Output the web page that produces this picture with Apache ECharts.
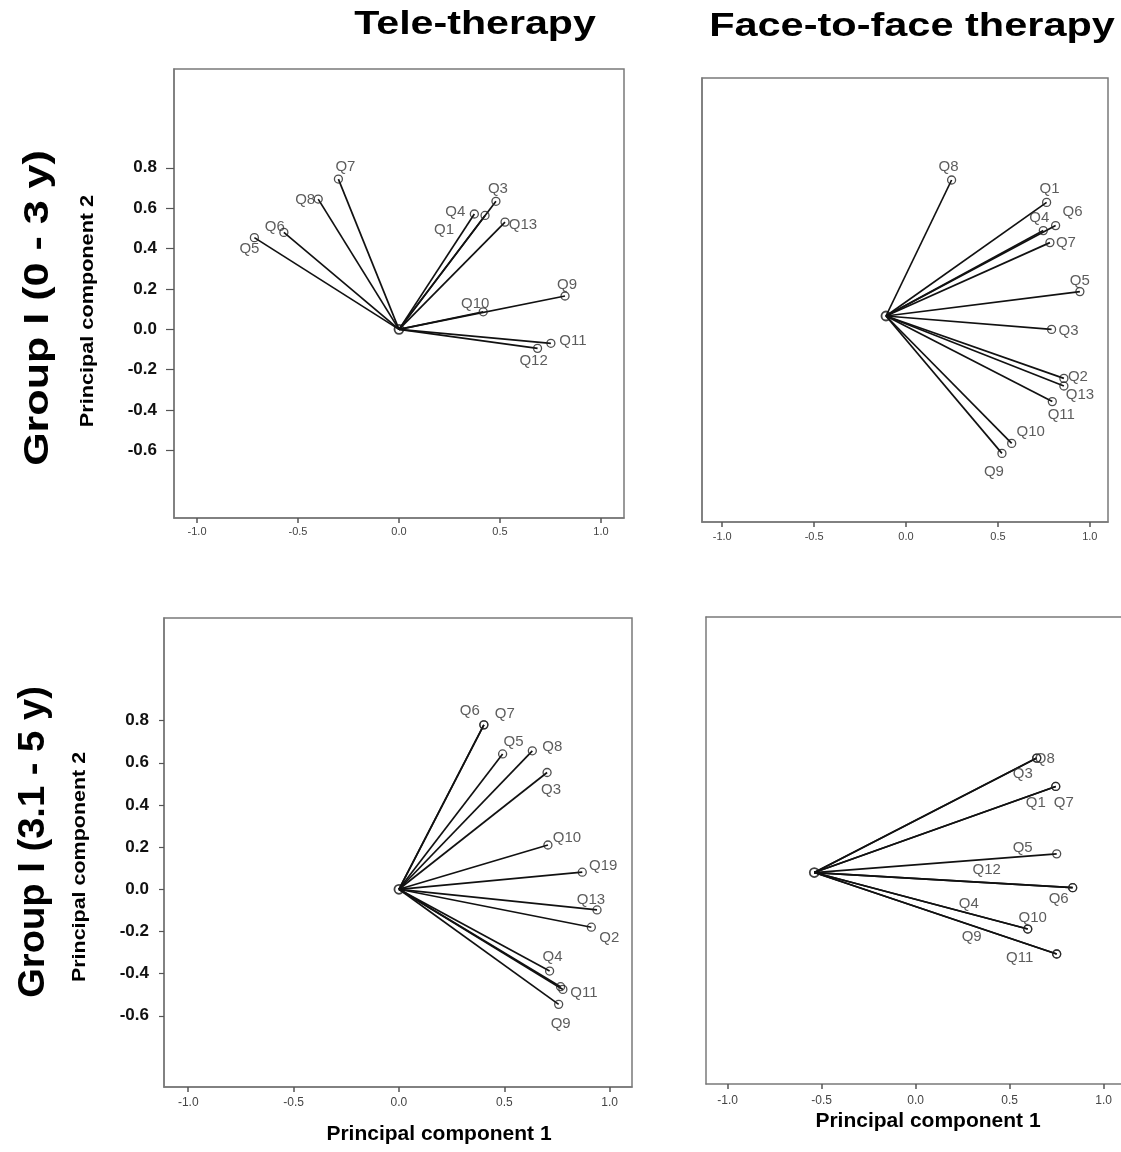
<!DOCTYPE html>
<html>
<head>
<meta charset="utf-8">
<title>PCA loading plots</title>
<script src="https://cdn.jsdelivr.net/npm/echarts@6/dist/echarts.min.js"></script>
<style>
  html, body { margin: 0; padding: 0; background: #fff; }
  #chart { width: 1121px; height: 1152px; }
</style>
</head>
<body>
<div id="chart"></div>
<script>
// tick labels
const xTicks = [-1.0, -0.5, 0.0, 0.5, 1.0];
const yTicks = [-0.6, -0.4, -0.2, 0.0, 0.2, 0.4, 0.6, 0.8];

// Group I (0 - 3 y), tele-therapy
const teleYoungItems = ['Q7', 'Q8', 'Q6', 'Q5', 'Q4', 'Q1', 'Q3', 'Q13', 'Q9', 'Q10', 'Q11', 'Q12'];
const teleYoungPC1 = [-0.30, -0.40, -0.57, -0.716, 0.373, 0.426, 0.48, 0.525, 0.822, 0.417, 0.752, 0.686];
const teleYoungPC2 = [0.744, 0.645, 0.48, 0.454, 0.571, 0.564, 0.634, 0.531, 0.165, 0.087, -0.069, -0.094];
const teleYoungOrigin = [0, 0];

// Group I (0 - 3 y), face-to-face therapy
const faceYoungItems = ['Q8', 'Q1', 'Q6', 'Q4', 'Q7', 'Q5', 'Q3', 'Q2', 'Q13', 'Q11', 'Q10', 'Q9'];
const faceYoungPC1 = [0.248, 0.765, 0.814, 0.747, 0.783, 0.946, 0.792, 0.859, 0.859, 0.796, 0.575, 0.522];
const faceYoungPC2 = [0.68, 0.568, 0.452, 0.427, 0.367, 0.122, -0.067, -0.312, -0.35, -0.428, -0.637, -0.687];
const faceYoungOrigin = [-0.109, 0];

// Group I (3.1 - 5 y), tele-therapy ('' = unlabeled point next to Q11)
const teleOlderItems = ['Q6', 'Q7', 'Q5', 'Q8', 'Q3', 'Q10', 'Q19', 'Q13', 'Q2', 'Q4', '', 'Q11', 'Q9'];
const teleOlderPC1 = [0.403, 0.403, 0.492, 0.633, 0.703, 0.707, 0.87, 0.94, 0.913, 0.715, 0.767, 0.778, 0.758];
const teleOlderPC2 = [0.78, 0.78, 0.642, 0.657, 0.554, 0.21, 0.081, -0.098, -0.18, -0.388, -0.462, -0.475, -0.546];
const teleOlderOrigin = [0, 0];

// Group I (3.1 - 5 y), face-to-face therapy
const faceOlderItems = ['Q8', 'Q3', 'Q7', 'Q1', 'Q5', 'Q12', 'Q6', 'Q10', 'Q4', 'Q11', 'Q9'];
const faceOlderPC1 = [0.644, 0.644, 0.745, 0.745, 0.75, 0.835, 0.835, 0.596, 0.596, 0.75, 0.75];
const faceOlderPC2 = [0.545, 0.545, 0.41, 0.41, 0.089, -0.072, -0.072, -0.269, -0.269, -0.388, -0.388];
const faceOlderOrigin = [-0.539, 0];

// label placement (px offsets from each point), layout only
const teleYoungLabelPos = [[7, -12], [-13, 1], [-9, -6], [-5, 11], [-19, -2], [-41, 14], [2, -12], [18, 3], [2, -11], [-8, -8], [22, -2], [-4, 13]];
const faceYoungLabelPos = [[-3, -13], [3, -14], [17, -14], [-4, -13], [16, 0], [0, -11], [17, 1], [14, -2], [16, 9], [9, 13], [19, -12], [-8, 18]];
const teleOlderLabelPos = [[-14, -14], [21, -11], [11, -12], [20, -4], [4, 17], [19, -7], [21, -6], [-6, -10], [18, 11], [3, -14], [0, 0], [21, 3], [2, 19]];
const faceOlderLabelPos = [[8, 1], [-14, 16], [8, 16], [-20, 16], [-34, -6], [-86, -18], [-14, 11], [5, -11], [-59, -25], [-37, 4], [-85, -17]];

const FONT = '"Liberation Sans", Arial, Helvetica, sans-serif';
const FRAME = '#7a7a7a';

// the last panel is cut off at the right edge of the figure: no right border
const panels = [
  { items: teleYoungItems, pc1: teleYoungPC1, pc2: teleYoungPC2, origin: teleYoungOrigin, labelPos: teleYoungLabelPos,
    grid: { left: 174, top: 69, width: 450, height: 449 }, x: [-1.114, 1.114], y: [-0.934, 1.289],
    showY: true, box: true, xFont: 11, xMargin: 8, yMargin: 17, yTick: 8 },
  { items: faceYoungItems, pc1: faceYoungPC1, pc2: faceYoungPC2, origin: faceYoungOrigin, labelPos: faceYoungLabelPos,
    grid: { left: 702, top: 78, width: 406, height: 444 }, x: [-1.110, 1.099], y: [-1.03, 1.19],
    showY: false, box: true, xFont: 11, xMargin: 9 },
  { items: teleOlderItems, pc1: teleOlderPC1, pc2: teleOlderPC2, origin: teleOlderOrigin, labelPos: teleOlderLabelPos,
    grid: { left: 164, top: 618, width: 468, height: 469 }, x: [-1.115, 1.106], y: [-0.938, 1.287],
    showY: true, box: true, xFont: 12, xMargin: 10, yMargin: 15, yTick: 5 },
  { items: faceOlderItems, pc1: faceOlderPC1, pc2: faceOlderPC2, origin: faceOlderOrigin, labelPos: faceOlderLabelPos,
    grid: { left: 706, top: 617, width: 415, height: 467 }, x: [-1.115, 1.092], y: [-1.007, 1.217],
    showY: false, box: false, xFont: 12, xMargin: 11 }
];

const chart = echarts.init(document.getElementById('chart'));

const grids = [], xAxes = [], yAxes = [], series = [];

panels.forEach((p, i) => {
  grids.push(Object.assign({ show: p.box, borderColor: FRAME, borderWidth: 1.5, backgroundColor: 'transparent' }, p.grid));

  xAxes.push({
    type: 'value', gridIndex: i, min: p.x[0], max: p.x[1],
    axisLine: { show: true, onZero: false, lineStyle: { color: FRAME, width: 1.5 } },
    axisTick: { show: true, length: 5, customValues: xTicks, lineStyle: { color: '#555', width: 1.5 } },
    axisLabel: {
      customValues: xTicks, margin: p.xMargin, fontSize: p.xFont, color: '#444', fontFamily: FONT,
      formatter: (v) => v.toFixed(1)
    },
    splitLine: { show: false }
  });

  yAxes.push({
    type: 'value', gridIndex: i, min: p.y[0], max: p.y[1],
    axisLine: { show: true, onZero: false, lineStyle: { color: FRAME, width: 1.5 } },
    axisTick: { show: p.showY, length: p.yTick || 5, customValues: yTicks, lineStyle: { color: '#555', width: 1.2 } },
    axisLabel: {
      show: p.showY, customValues: yTicks, margin: p.yMargin || 15, fontSize: 17, fontWeight: 'bold', color: '#111', fontFamily: FONT,
      formatter: (v) => v.toFixed(1)
    },
    splitLine: { show: false }
  });

  series.push({
    type: 'lines', coordinateSystem: 'cartesian2d', xAxisIndex: i, yAxisIndex: i,
    silent: true, symbol: 'none',
    lineStyle: { color: '#111', width: 1.7, opacity: 1, curveness: 0 },
    data: p.items.map((n, k) => ({ coords: [p.origin, [p.pc1[k], p.pc2[k]]] }))
  });

  series.push({
    type: 'scatter', xAxisIndex: i, yAxisIndex: i, silent: true,
    symbol: 'circle', symbolSize: 8,
    itemStyle: { color: 'rgba(255,255,255,0)', borderColor: '#222', borderWidth: 1.3 },
    label: {
      show: true, position: 'inside', fontSize: 15, color: '#333', fontFamily: FONT,
      formatter: (d) => d.name
    },
    data: p.items.map((n, k) => ({
      name: n, value: [p.pc1[k], p.pc2[k]],
      label: { offset: p.labelPos[k] }
    }))
  });

  series.push({
    type: 'scatter', xAxisIndex: i, yAxisIndex: i, silent: true,
    symbol: 'circle', symbolSize: 9,
    itemStyle: { color: 'rgba(255,255,255,0)', borderColor: '#111', borderWidth: 1.8 },
    data: [p.origin]
  });
});

// top border of the cut-off panel: an extra bare x axis on top
const lastGrid = panels.length - 1;
xAxes.push({
  type: 'value', gridIndex: lastGrid, position: 'top', min: panels[lastGrid].x[0], max: panels[lastGrid].x[1],
  axisLine: { show: true, onZero: false, lineStyle: { color: FRAME, width: 1.5 } },
  axisTick: { show: false }, axisLabel: { show: false }, splitLine: { show: false }
});

function txt(text, x, y, size, opts) {
  return Object.assign({
    type: 'text', x: x, y: y,
    style: { text: text, fontSize: size, fontWeight: 'bold', fontFamily: FONT, fill: '#000', align: 'center', verticalAlign: 'middle' }
  }, opts || {});
}

const graphic = [
  txt('Tele-therapy', 475, 25, 34, { scaleX: 1.21 }),
  txt('Face-to-face therapy', 912, 27, 34, { scaleX: 1.22 }),
  txt('Group I (0 - 3 y)', 38, 308, 35, { rotation: Math.PI / 2, scaleX: 1.23 }),
  txt('Group I (3.1 - 5 y)', 34, 842, 36, { rotation: Math.PI / 2, scaleX: 1.06 }),
  txt('Principal component 2', 88, 311, 19, { rotation: Math.PI / 2, scaleX: 1.14 }),
  txt('Principal component 2', 80, 867, 19, { rotation: Math.PI / 2, scaleX: 1.13 }),
  txt('Principal component 1', 439, 1134, 21),
  txt('Principal component 1', 928, 1121, 21)
];

chart.setOption({
  backgroundColor: '#fff',
  animation: false,
  grid: grids,
  xAxis: xAxes,
  yAxis: yAxes,
  series: series,
  graphic: graphic
});
</script>
</body>
</html>
